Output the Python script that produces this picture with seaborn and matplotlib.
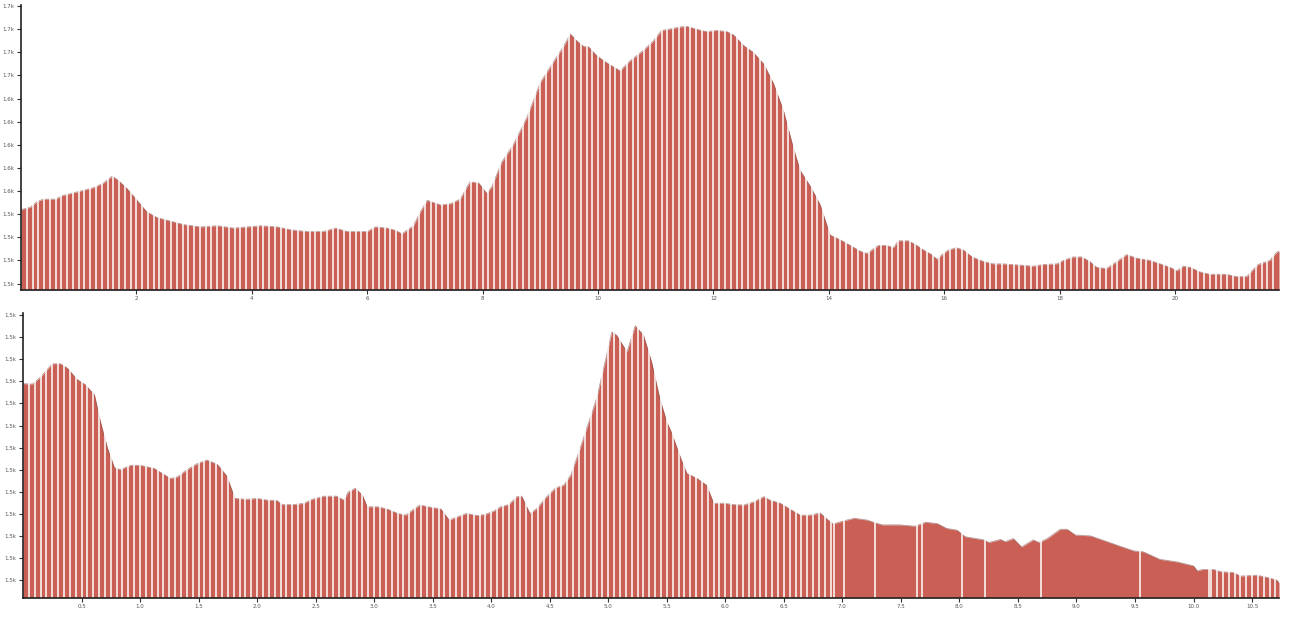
import numpy as np
import pandas as pd
import matplotlib
matplotlib.use("Agg")
import matplotlib.pyplot as plt
from matplotlib.ticker import FuncFormatter
import seaborn as sns

# elevation profile, first route (distance km, elevation m)
top_km = [0.0, 0.16, 0.28, 0.39, 0.6, 0.71, 1.03, 1.26, 1.43, 1.58, 1.69, 1.84, 2.01, 2.18,
          2.36, 2.59, 2.82, 3.11, 3.40, 3.68, 3.92, 4.15, 4.44, 4.67, 4.96, 5.24, 5.45, 5.65,
          5.88, 6.0, 6.14, 6.34, 6.49, 6.60, 6.80, 6.92, 7.04, 7.15, 7.27, 7.44, 7.61, 7.78,
          7.93, 8.07, 8.16, 8.33, 8.53, 8.77, 9.0, 9.23, 9.40, 9.52, 9.63, 9.75, 9.83, 9.98,
          10.15, 10.38, 10.56, 10.79, 10.96, 11.10, 11.22, 11.42, 11.54, 11.71, 11.88, 12.06,
          12.23, 12.35, 12.52, 12.69, 12.87, 13.04, 13.21, 13.38, 13.50, 13.68, 13.85, 14.02,
          14.19, 14.37, 14.54, 14.66, 14.77, 14.86, 15.0, 15.12, 15.20, 15.38, 15.52, 15.64,
          15.78, 15.87, 15.96, 16.07, 16.21, 16.33, 16.48, 16.68, 16.85, 17.02, 17.31, 17.54,
          17.71, 17.95, 18.06, 18.23, 18.38, 18.52, 18.64, 18.81, 18.99, 19.16, 19.33, 19.56,
          19.74, 19.91, 20.03, 20.14, 20.26, 20.43, 20.60, 20.89, 21.06, 21.24, 21.35, 21.44,
          21.64, 21.76, 21.80]
top_elev = [1544, 1546, 1551, 1553, 1553, 1556, 1560, 1563, 1567, 1573, 1569, 1562, 1552, 1542,
            1537, 1534, 1531, 1529, 1530, 1528, 1529, 1530, 1529, 1526.5, 1525, 1525, 1528, 1525,
            1525, 1525, 1529, 1528, 1526, 1523, 1530, 1542, 1552, 1550, 1548, 1549, 1553, 1568,
            1567, 1558, 1564, 1585, 1600, 1624, 1654, 1672, 1685, 1696, 1690, 1685, 1685, 1677,
            1671, 1664, 1673, 1682, 1690, 1699, 1700, 1702, 1702.5, 1700, 1698, 1699,
            1698, 1695, 1686, 1680, 1670, 1653, 1630, 1598, 1578, 1564, 1548, 1522,
            1518, 1513, 1508, 1506, 1510, 1513, 1513, 1511, 1517, 1517, 1513, 1509,
            1505, 1501, 1505, 1509, 1511, 1509, 1503, 1499, 1497, 1497, 1496, 1495,
            1496.5, 1497, 1500, 1503, 1503, 1499, 1494, 1493, 1499, 1505, 1502, 1500,
            1497, 1494, 1491, 1495, 1494, 1490, 1488, 1488, 1486, 1486, 1492, 1496.5,
            1500, 1507, 1508]

# elevation profile, second route
bot_km = [0.0, 0.08, 0.15, 0.25, 0.32, 0.38, 0.46, 0.53, 0.61, 0.66, 0.72, 0.78, 0.83, 0.92,
          1.00, 1.12, 1.20, 1.26, 1.32, 1.40, 1.49, 1.57, 1.66, 1.74, 1.81, 1.91, 2.0, 2.09,
          2.17, 2.21, 2.31, 2.40, 2.47, 2.57, 2.68, 2.74, 2.78, 2.84, 2.90, 2.94, 3.03, 3.11,
          3.20, 3.27, 3.34, 3.39, 3.48, 3.57, 3.64, 3.71, 3.79, 3.88, 3.95, 4.02, 4.08, 4.15,
          4.22, 4.26, 4.33, 4.39, 4.46, 4.55, 4.62, 4.68, 4.75, 4.82, 4.90, 4.97, 5.03, 5.07,
          5.16, 5.23, 5.30, 5.37, 5.44, 5.50, 5.54, 5.62, 5.67, 5.76, 5.84, 5.90, 5.99, 6.07,
          6.16, 6.24, 6.33, 6.38, 6.47, 6.55, 6.64, 6.72, 6.81, 6.86, 6.92, 7.01, 7.10, 7.21,
          7.30, 7.34, 7.49, 7.62, 7.71, 7.81, 7.89, 7.98, 8.05, 8.21, 8.25, 8.35, 8.39, 8.46,
          8.53, 8.63, 8.68, 8.75, 8.86, 8.92, 8.99, 9.12, 9.26, 9.40, 9.49, 9.57, 9.71, 9.86,
          10.0, 10.03, 10.08, 10.17, 10.23, 10.34, 10.40, 10.54, 10.63, 10.71, 10.73]
bot_elev = [1519.5, 1519.4, 1521, 1524, 1524, 1523, 1520.5, 1519.3, 1517, 1511, 1505, 1500.5, 1500, 1501,
            1501, 1500.3, 1499, 1498, 1498.4, 1500, 1501.4, 1502.2, 1501.2, 1498.6, 1493.5, 1493.3, 1493.5, 1493.1,
            1493, 1492.1, 1492.1, 1492.4, 1493.3, 1494, 1494, 1493.1, 1495, 1495.8, 1494.2, 1491.6, 1491.6, 1491.1,
            1490.1, 1489.7, 1491.1, 1492, 1491.5, 1491.1, 1488.6, 1489.3, 1490.1, 1489.6, 1489.9, 1490.6, 1491.6, 1492.1,
            1493.9, 1494, 1490.1, 1491.2, 1493.5, 1495.9, 1496.5, 1498.8, 1504.1, 1509.7, 1516.1, 1524.1, 1531.2, 1530.5,
            1526.7, 1532.6, 1530.5, 1524.4, 1516.1, 1510.8, 1508.4, 1502.5, 1499.2, 1498, 1496.5, 1492.4, 1492.4, 1492.1,
            1492, 1492.7, 1493.9, 1493.1, 1492.4, 1491.1, 1489.7, 1489.7, 1490.2, 1489, 1487.7, 1488.4, 1489, 1488.6,
            1487.8, 1487.5, 1487.5, 1487.2, 1488.1, 1487.8, 1486.7, 1486.3, 1484.8, 1484.1, 1483.5, 1484.2, 1483.7, 1484.4,
            1482.5, 1484.1, 1483.5, 1484.4, 1486.5, 1486.5, 1485.2, 1485, 1483.7, 1482.4, 1481.6, 1481.4, 1479.7, 1479.1,
            1478.2, 1477.1, 1477.4, 1477.4, 1476.9, 1476.7, 1475.9, 1476.1, 1475.6, 1475, 1474.4]

# sample spacing of the bars, and the stretch of the second route with sparse points
top_step = 0.1
bot_step = 0.05
bot_sparse = (6.93, 10.13)
bot_sparse_breaks = [7.01, 7.28, 7.64, 7.68, 8.02, 8.22, 8.70, 9.54]

top_yticks = list(range(1480, 1721, 20))
bot_yticks = list(range(1475, 1536, 5))
top_xticks = list(range(2, 21, 2))
bot_xticks = [0.5 * i for i in range(1, 22)]

sns.set_theme(style="ticks")
plt.rcParams['font.family'] = ['DejaVu Sans']

BAR = "#c95f55"
GAP = "white"

fig = plt.figure(figsize=(12.89, 6.25), dpi=100)
ax1 = fig.add_axes([21 / 1289, 1 - 290 / 625, 1258 / 1289, 285 / 625])
ax2 = fig.add_axes([23 / 1289, 1 - 597.7 / 625, 1256 / 1289, 284.7 / 625])


def draw_profile(ax, km, elev, ylo, yhi, gaps):
    df = pd.DataFrame({"km": km, "elev": elev})
    ax.fill_between(df["km"], ylo, df["elev"], color=BAR, lw=0, zorder=1)
    sns.lineplot(data=df, x="km", y="elev", ax=ax, color="#7d4a45", lw=0.6, alpha=0.55, zorder=1.5)
    ax.vlines(gaps, ylo, yhi, color=GAP, lw=1.3, alpha=0.85, zorder=2)
    ax.set_xlim(0, km[-1])
    ax.set_ylim(ylo, yhi)
    ax.set_xlabel("")
    ax.set_ylabel("")
    sns.despine(ax=ax)
    for s in ["left", "bottom"]:
        ax.spines[s].set_color("#222222")
        ax.spines[s].set_linewidth(1.2)
    ax.tick_params(axis="both", length=3, width=0.8, color="#333333", labelsize=4,
                   labelcolor="#555555", pad=1.5)
    ax.yaxis.set_major_formatter(FuncFormatter(lambda v, p: f"{v / 1000:.1f}k"))


top_gaps = np.arange(top_step, top_km[-1], top_step)
draw_profile(ax1, top_km, top_elev, 1474.4, 1721, top_gaps)
ax1.set_xticks(top_xticks)
ax1.set_xticklabels([str(t) for t in top_xticks])
ax1.set_yticks(top_yticks)

bot_grid = np.arange(bot_step, bot_km[-1], bot_step)
bot_gaps = [g for g in bot_grid if g < bot_sparse[0] or g > bot_sparse[1]]
bot_gaps += list(bot_sparse) + bot_sparse_breaks
draw_profile(ax2, bot_km, bot_elev, 1471, 1535.5, bot_gaps)
ax2.set_xticks(bot_xticks)
ax2.set_xticklabels([f"{t:.1f}" for t in bot_xticks])
ax2.set_yticks(bot_yticks)

fig.savefig("out.png", dpi=100, facecolor="white")
